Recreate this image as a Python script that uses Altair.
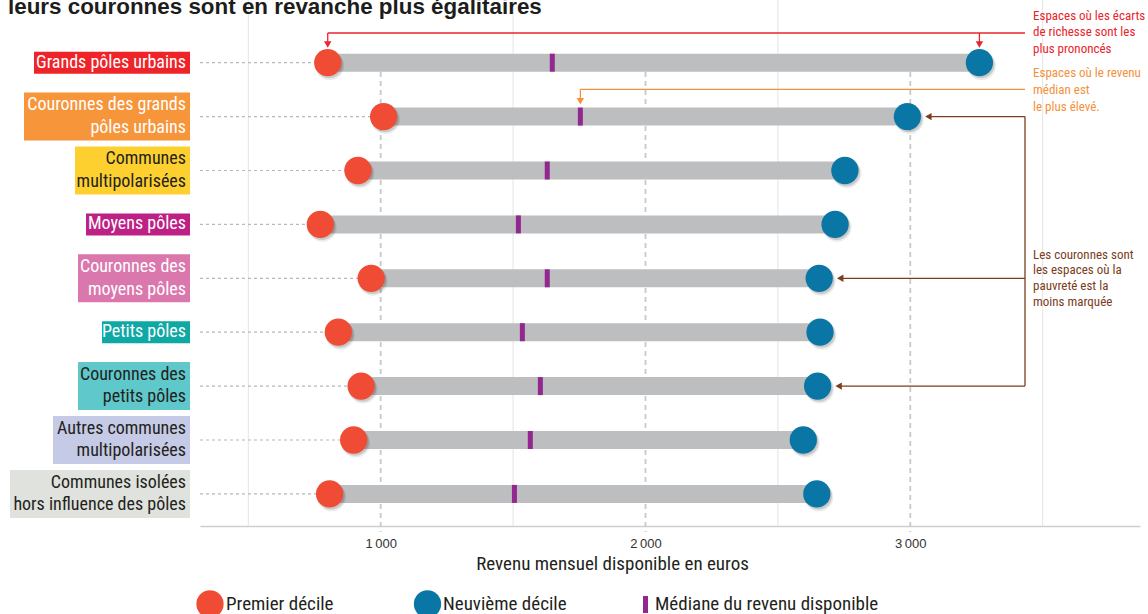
import altair as alt
import pandas as pd

# ---------------------------------------------------------------- data
categories = [
    "Grands pôles urbains",
    "Couronnes des grands pôles urbains",
    "Communes multipolarisées",
    "Moyens pôles",
    "Couronnes des moyens pôles",
    "Petits pôles",
    "Couronnes des petits pôles",
    "Autres communes multipolarisées",
    "Communes isolées hors influence des pôles",
]
label_text = [
    "Grands pôles urbains",
    "Couronnes des grands\npôles urbains",
    "Communes\nmultipolarisées",
    "Moyens pôles",
    "Couronnes des\nmoyens pôles",
    "Petits pôles",
    "Couronnes des\npetits pôles",
    "Autres communes\nmultipolarisées",
    "Communes isolées\nhors influence des pôles",
]
# monthly disposable income, euros
first_decile = [800, 1011, 914, 772, 964, 840, 926, 898, 807]
median_income = [1648, 1754, 1629, 1520, 1629, 1535, 1603, 1565, 1505]
ninth_decile = [3261, 2989, 2753, 2716, 2656, 2659, 2650, 2596, 2647]

major_ticks = [1000, 2000, 3000]
minor_ticks = [500, 1500, 2500, 3500]

# ---------------------------------------------------------------- styles
label_fill = ["#ee2429", "#f7953b", "#fdd02f", "#bd2185", "#da78ae",
              "#0ea8a5", "#5ec8ca", "#c5cae6", "#dfe2dd"]
label_ink = ["#ffffff", "#ffffff", "#231f20", "#ffffff", "#ffffff",
             "#ffffff", "#231f20", "#231f20", "#231f20"]

C_D1 = "#ef4b35"
C_D9 = "#0a76a5"
C_BAR = "#bdbec0"
C_MED = "#92278f"
C_RED = "#e9242b"
C_ORANGE = "#f4913a"
C_BROWN = "#7b3d1c"
NARROW = ("'Liberation Sans Narrow', 'Noto Sans Condensed', 'Roboto Condensed', "
          "'Open Sans Condensed', 'Arial Narrow', 'Nimbus Sans Narrow', "
          "'DejaVu Sans Condensed', 'Noto Sans SemiCondensed', Roboto, sans-serif")
PLAIN = "'Liberation Sans', Arial, sans-serif"

# ---------------------------------------------------------------- layout (px, plot-area coordinates)
W, H = 940, 496
PAD = {"left": 200, "top": 30, "right": 8, "bottom": 88}
X_DOMAIN = [317.6, 3867.5]
ROW0, STEP = 32.7, 53.9
RAIL = 825            # x of the callout rails on the right
NOTE_X = 833          # left edge of the callout texts
AXIS_TITLE_X = 412
LABEL_RIGHT = -14
LABEL_LH = 22.5
BOX_RIGHT = -10
BOX_WIDTH = [156, 166, 115, 104, 112, 88, 112, 137, 180]
DOT = 745

n = len(categories)


def row_y(i):
    return ROW0 + STEP * i


df = pd.DataFrame({
    "cat": categories,
    "label": label_text,
    "d1": first_decile,
    "med": median_income,
    "d9": ninth_decile,
    "ink": label_ink,
})
df["left"] = X_DOMAIN[0]
df["two_lines"] = df["label"].str.contains("\n")
ONE = pd.DataFrame({"k": [0]})

XSCALE = alt.Scale(domain=X_DOMAIN, nice=False, zero=False)
XAXIS = alt.Axis(
    values=major_ticks, grid=False, ticks=False, tickSize=0,
    domainColor="#cfcfcf", domainWidth=1.5,
    labelExpr="replace(format(datum.value, ','), ',', '\u2009')",
    labelFont=PLAIN, labelFontSize=13, labelColor="#333333", labelPadding=11,
    title="Revenu mensuel disponible en euros", titleFont=NARROW,
    titleFontSize=19, titleFontWeight="normal", titleColor="#231f20",
    titlePadding=4, titleX=AXIS_TITLE_X, titleAlign="center",
)
YSCALE = alt.Scale(type="point", domain=categories,
                   range=[row_y(0), row_y(n - 1)], padding=0)


def xq(field):
    return alt.X(field, type="quantitative", scale=XSCALE, axis=XAXIS)


Y = alt.Y("cat:N", scale=YSCALE, axis=None)

layers = []

# vertical guides
ticks_minor = pd.DataFrame({"v": minor_ticks})
ticks_major = pd.DataFrame({"v": major_ticks})
layers.append(alt.Chart(ticks_minor).mark_rule(color="#e4e4e4", strokeWidth=1).encode(
    x=xq("v"), y=alt.value(-30), y2=alt.value(H)))
layers.append(alt.Chart(ticks_major).mark_rule(color="#c9c9c9", strokeWidth=1.8, strokeDash=[5, 4]).encode(
    x=xq("v"), y=alt.value(24), y2=alt.value(H + 6)))

# dotted leaders from the labels to the first decile
layers.append(alt.Chart(df).mark_rule(color="#b8b8b8", strokeWidth=1.2, strokeDash=[3, 3]).encode(
    x=xq("left"), x2="d1:Q", y=Y))

# inter-decile bar
layers.append(alt.Chart(df).mark_rule(color=C_BAR, strokeWidth=18, strokeCap="butt").encode(
    x=xq("d1"), x2="d9:Q", y=Y))

# median
layers.append(alt.Chart(df).mark_tick(color=C_MED, thickness=5, size=18, opacity=1).encode(
    x=xq("med"), y=Y))

# dots with soft shadow
for fld, col in (("d1", C_D1), ("d9", C_D9)):
    layers.append(alt.Chart(df).mark_circle(size=DOT + 90, color="#000000", opacity=0.08,
                                            xOffset=2, yOffset=3).encode(x=xq(fld), y=Y))
    layers.append(alt.Chart(df).mark_circle(size=DOT, color="#000000", opacity=0.14,
                                            xOffset=1.5, yOffset=2).encode(x=xq(fld), y=Y))
    layers.append(alt.Chart(df).mark_circle(size=DOT, color=col, opacity=1).encode(x=xq(fld), y=Y))

# label boxes
for i in range(n):
    h = 48 if "\n" in label_text[i] else 22
    layers.append(alt.Chart(ONE).mark_rect(color=label_fill[i]).encode(
        x=alt.value(BOX_RIGHT - BOX_WIDTH[i]), x2=alt.value(BOX_RIGHT),
        y=alt.value(row_y(i) - h / 2), y2=alt.value(row_y(i) + h / 2)))

# label texts: one-line and two-line labels, each block centred on its row
for two, shift in ((False, 0), (True, -LABEL_LH / 2)):
    layers.append(alt.Chart(df[df["two_lines"] == two]).mark_text(
        align="right", baseline="middle", font=NARROW, fontSize=18,
        lineBreak="\n", lineHeight=LABEL_LH, dy=shift).encode(
        x=alt.value(LABEL_RIGHT), y=Y, text="label:N",
        color=alt.Color("ink:N", scale=None)))

# ---------------------------------------------------------------- callouts
spread = [b - a for a, b in zip(first_decile, ninth_decile)]
i_wide = spread.index(max(spread))
i_high = median_income.index(max(median_income))
wide = df.iloc[[i_wide]]
high = df.iloc[[i_high]]
rings = df[df["cat"].str.startswith("Couronnes")]

# widest gap (red)
RED_Y = 3
layers.append(alt.Chart(wide).mark_rule(color=C_RED, strokeWidth=1.3).encode(
    x=xq("d1"), x2=alt.value(RAIL), y=alt.value(RED_Y)))
for fld in ("d1", "d9"):
    layers.append(alt.Chart(wide).mark_rule(color=C_RED, strokeWidth=1.3).encode(
        x=xq(fld), y=alt.value(RED_Y), y2=alt.value(RED_Y + 9)))
    layers.append(alt.Chart(wide).mark_point(shape="triangle-down", filled=True, size=55,
                                             color=C_RED, opacity=1).encode(
        x=xq(fld), y=alt.value(RED_Y + 11.5)))

# highest median (orange)
OR_Y = 59.3
layers.append(alt.Chart(high).mark_rule(color=C_ORANGE, strokeWidth=1.3).encode(
    x=xq("med"), x2=alt.value(RAIL), y=alt.value(OR_Y)))
layers.append(alt.Chart(high).mark_rule(color=C_ORANGE, strokeWidth=1.3).encode(
    x=xq("med"), y=alt.value(OR_Y), y2=alt.value(OR_Y + 9)))
layers.append(alt.Chart(high).mark_point(shape="triangle-down", filled=True, size=55,
                                         color=C_ORANGE, opacity=1).encode(
    x=xq("med"), y=alt.value(OR_Y + 12)))

# rings (brown)
ring_rows = [categories.index(c) for c in rings["cat"]]
layers.append(alt.Chart(ONE).mark_rule(color=C_BROWN, strokeWidth=1.3).encode(
    x=alt.value(RAIL), y=alt.value(row_y(min(ring_rows))), y2=alt.value(row_y(max(ring_rows)))))
layers.append(alt.Chart(rings).mark_rule(color=C_BROWN, strokeWidth=1.3, xOffset=22).encode(
    x=xq("d9"), x2=alt.value(RAIL), y=Y))
layers.append(alt.Chart(rings).mark_point(shape="triangle-left", filled=True, size=55,
                                          color=C_BROWN, opacity=1, xOffset=21).encode(
    x=xq("d9"), y=Y))

notes = [
    ("Espaces où les écarts\nde richesse sont les\nplus prononcés", C_RED, -10.3, 16.6),
    ("Espaces où le revenu\nmédian est\nle plus élevé.", C_ORANGE, 47.4, 16.6),
    ("Les couronnes sont\nles espaces où la\npauvreté est la\nmoins marquée", C_BROWN, 228.7, 15.7),
]
for txt, col, y0, lh in notes:
    layers.append(alt.Chart(ONE).mark_text(align="left", baseline="alphabetic", font=NARROW,
                                           fontSize=13, lineBreak="\n", lineHeight=lh,
                                           color=col).encode(
        x=alt.value(NOTE_X), y=alt.value(y0), text=alt.value(txt)))

# ---------------------------------------------------------------- legend
LEG_Y = 574
layers.append(alt.Chart(ONE).mark_circle(size=DOT, color=C_D1, opacity=1).encode(
    x=alt.value(10), y=alt.value(LEG_Y)))
layers.append(alt.Chart(ONE).mark_circle(size=DOT, color=C_D9, opacity=1).encode(
    x=alt.value(227.5), y=alt.value(LEG_Y)))
layers.append(alt.Chart(ONE).mark_rect(color=C_MED).encode(
    x=alt.value(443), x2=alt.value(448), y=alt.value(LEG_Y - 8), y2=alt.value(LEG_Y + 9)))
for lx, txt in ((26, "Premier décile"), (243, "Neuvième décile"), (455, "Médiane du revenu disponible")):
    layers.append(alt.Chart(ONE).mark_text(align="left", baseline="middle", font=NARROW,
                                           fontSize=19, color="#231f20").encode(
        x=alt.value(lx), y=alt.value(LEG_Y), text=alt.value(txt)))

# ---------------------------------------------------------------- heading
layers.append(alt.Chart(ONE).mark_text(align="left", baseline="alphabetic", font=PLAIN,
                                       fontWeight="bold", fontSize=22.4, color="#1d1d1b").encode(
    x=alt.value(-192), y=alt.value(-16),
    text=alt.value("leurs couronnes sont en revanche plus égalitaires")))

chart = alt.layer(*layers).properties(
    width=W, height=H,
    autosize=alt.AutoSizeParams(type="none"),
    padding=PAD,
    background="#ffffff",
).configure_view(strokeWidth=0)

chart.save("out.html", embed_options={"renderer": "svg", "actions": False})
